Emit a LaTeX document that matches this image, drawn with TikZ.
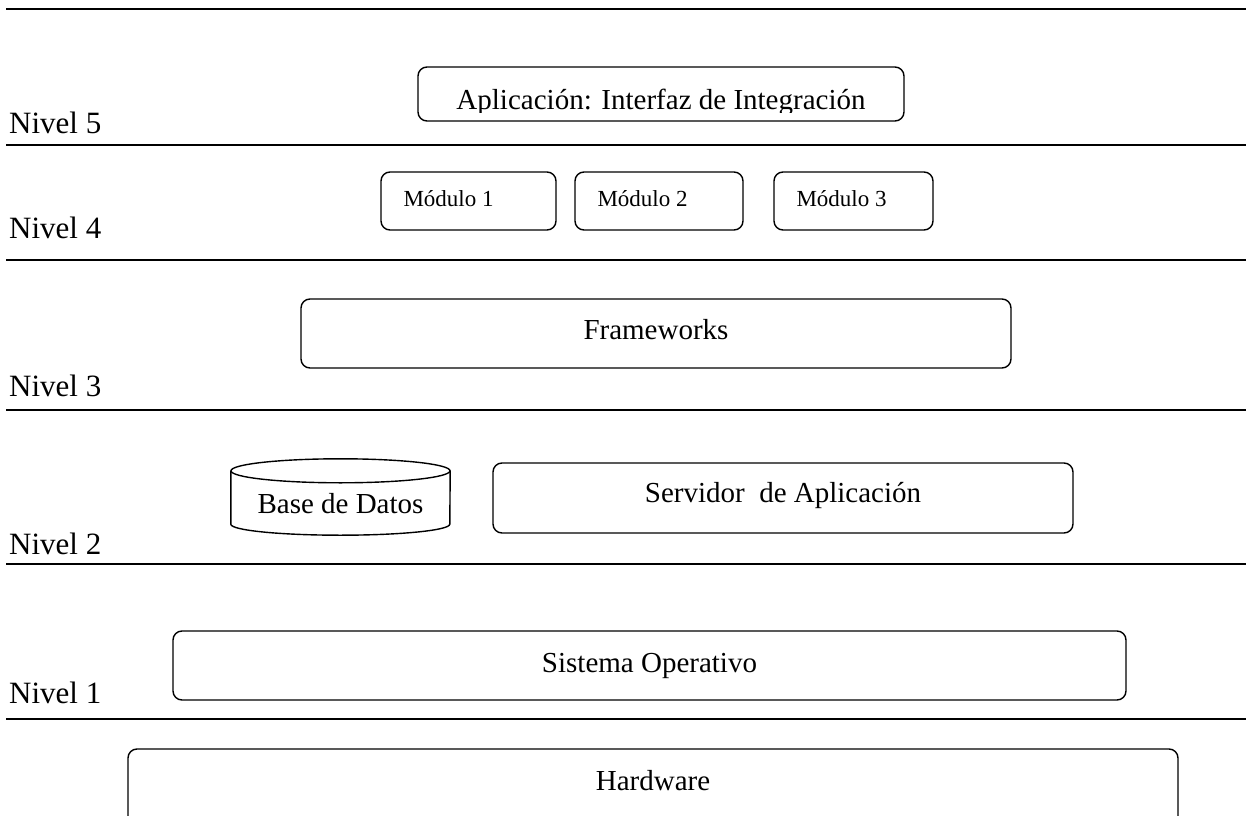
\documentclass[tikz,border=0pt]{standalone}
\usepackage{fontspec}
\setmainfont{Liberation Serif}
\usetikzlibrary{positioning,calc}

\begin{document}
\begin{tikzpicture}[x=1pt,y=-1pt]
\tikzset{caja/.style={draw,rounded corners=9pt,line width=1.4pt,inner sep=0pt}}
\tikzset{linea/.style={line width=2pt}}
\tikzset{nivel/.style={anchor=base west,inner sep=0pt,font=\fontsize{31}{36}\selectfont}}
\tikzset{texto/.style={anchor=base,inner sep=0pt,font=\fontsize{29}{34}\selectfont}}
\tikzset{modtexto/.style={anchor=base west,inner sep=0pt,font=\fontsize{23}{27}\selectfont}}
\useasboundingbox (0,0) rectangle (1248,816);
\clip (0,0) rectangle (1248,816);

% lineas de nivel
\foreach \y/\n in {9/top,145/l5,260/l4,410/l3,564/l2,719/l1}{
  \coordinate (a\n) at (6,\y);
  \coordinate (b\n) at (1246,\y);
  \draw[linea] (a\n) -- (b\n);
}
\foreach \i/\y in {5/133,4/238,3/396,2/554,1/703}
  \node[nivel] (nivel\i) at (9,\y) {Nivel \i};

% nivel 5
\node[caja,minimum width=486pt,minimum height=54pt] (app) at (661,94) {};
\begin{scope}
\clip (418,67) rectangle (904,112);
\node[texto] (apptxt) at ($(app.center)+(0,15)$) {Aplicación: Interfaz de Integración};
\end{scope}

% nivel 4
\foreach \i/\x/\w in {1/468.5/175,2/659/168,3/853.5/159}{
  \node[caja,minimum width=\w pt,minimum height=58pt] (mod\i) at (\x,201) {};
  \node[modtexto] (modtxt\i) at ($(mod\i.west)+(23,5)$) {Módulo \i};
}

% nivel 3
\node[caja,minimum width=710pt,minimum height=69pt] (fw) at (656,333.5) {};
\node[texto] (fwtxt) at ($(fw.center)+(0,5.5)$) {Frameworks};

% nivel 2
\node[minimum width=219pt,minimum height=76pt,inner sep=0pt] (bd) at (340.5,497) {};
\draw[line width=1.4pt] (bd.north west) ++(0,12) coordinate (bdnw)
  (bdnw) -- ($(bd.south west)+(0,-11)$) arc[start angle=180,end angle=360,x radius=109.5pt,y radius=11pt]
  -- ($(bd.north east)+(0,12)$);
\draw[line width=1.4pt] ($(bd.north)+(0,12)$) ellipse[x radius=109.5pt,y radius=12pt];
\node[texto] (bdtxt) at (340.5,513) {Base de Datos};

\node[caja,minimum width=580pt,minimum height=70pt] (serv) at (783,498) {};
\node[texto] (servtxt) at ($(serv.center)+(0,4)$) {Servidor\ \ de Aplicación};

% nivel 1
\node[caja,minimum width=953pt,minimum height=69pt] (so) at (649.5,665.5) {};
\node[texto] (sotxt) at ($(so.center)+(0,6.5)$) {Sistema Operativo};

\node[caja,minimum width=1050pt,minimum height=80pt] (hw) at (653,789) {};
\node[texto] (hwtxt) at ($(hw.center)+(0,1)$) {Hardware};
\end{tikzpicture}
\end{document}
